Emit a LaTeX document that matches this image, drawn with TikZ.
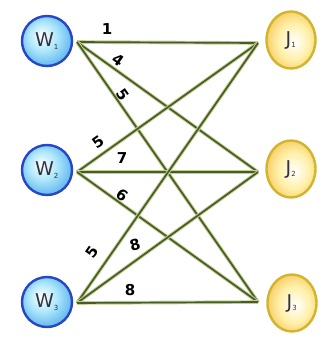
\documentclass[tikz,border=0pt]{standalone}
\usepackage{fontspec}
\setmainfont{DejaVu Sans}
\usetikzlibrary{shapes.geometric}
\definecolor{wiredark}{RGB}{72,92,38}
\definecolor{wirelight}{RGB}{195,206,150}
\definecolor{wborder}{RGB}{40,70,200}
\definecolor{wfill}{RGB}{55,155,230}
\definecolor{wlight}{RGB}{175,232,252}
\definecolor{jborder}{RGB}{210,180,45}
\definecolor{jfill}{RGB}{240,175,40}
\definecolor{jlight}{RGB}{255,240,170}
\definecolor{ntext}{RGB}{50,50,58}
\pgfdeclareradialshading{wshade}{\pgfpoint{-6bp}{6bp}}{color(0bp)=(white); color(14bp)=(wlight); color(36bp)=(wfill); color(50bp)=(wfill)}
\pgfdeclareradialshading{jshade}{\pgfpoint{4bp}{-2bp}}{color(0bp)=(white); color(16bp)=(jlight); color(38bp)=(jfill); color(50bp)=(jfill)}
\begin{document}
\begin{tikzpicture}[x=1pt,y=-1pt,
  wire/.style={draw=wiredark, line width=1.7pt, preaction={draw=wirelight, line width=3.6pt}},
  wnode/.style={circle, minimum size=50pt, inner sep=0pt, draw=wborder, line width=2.4pt,
    shading=wshade, text=ntext, font=\fontsize{19}{19}\selectfont},
  jnode/.style={ellipse, minimum width=49pt, minimum height=57pt, inner sep=0pt, draw=jborder, line width=2.4pt,
    shading=jshade, text=ntext, font=\fontsize{19}{19}\selectfont},
  wlabel/.style={font=\bfseries\fontsize{15}{15}\selectfont, text=black, inner sep=0pt}
]
\useasboundingbox (0,0) rectangle (323,338);
\fill[white] (0,0) rectangle (323,338);

\node[wnode] (W1) at (47,41) {W\textsubscript{\scriptsize 1}};
\node[wnode] (W2) at (47,170) {W\textsubscript{\scriptsize 2}};
\node[wnode] (W3) at (47,302) {W\textsubscript{\scriptsize 3}};
\node[jnode] (J1) at (291,40) {J\textsubscript{\scriptsize 1}};
\node[jnode] (J2) at (291,169) {J\textsubscript{\scriptsize 2}};
\node[jnode] (J3) at (292,303) {J\textsubscript{\scriptsize 3}};

\coordinate (a1) at (77,42);
\coordinate (a2) at (77,172);
\coordinate (a3) at (77,303);
\coordinate (b1) at (258,43);
\coordinate (b2) at (258,172);
\coordinate (b3) at (258,302);

\foreach \i in {1,2,3}{
  \foreach \j in {1,2,3}{
    \draw[wire] (a\i) -- (b\j);
  }
}

\node[wlabel] (l11) at (107,29) {1};
\node[wlabel, rotate=-35] (l12) at (118,60) {4};
\node[wlabel, rotate=-55] (l13) at (123,95) {5};
\node[wlabel, rotate=36] (l21) at (98,142) {5};
\node[wlabel] (l22) at (122,158) {7};
\node[wlabel, rotate=-36] (l23) at (122,195) {6};
\node[wlabel, rotate=55] (l31) at (92,252) {5};
\node[wlabel, rotate=15] (l32) at (135,245) {8};
\node[wlabel] (l33) at (130,290) {8};
\end{tikzpicture}
\end{document}
